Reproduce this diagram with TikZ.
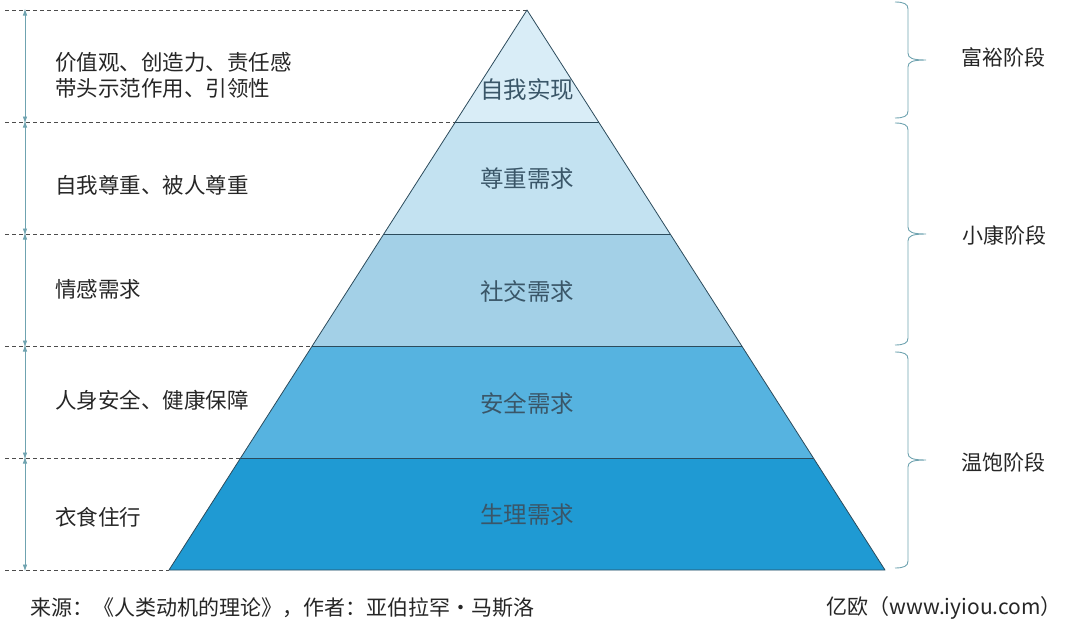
\documentclass[tikz,border=0pt]{standalone}
\usepackage{fontspec}
\setmainfont{Noto Sans CJK SC}
\usetikzlibrary{arrows.meta, positioning, calc}
\definecolor{lvl_a}{HTML}{D9EDF7}
\definecolor{lvl_b}{HTML}{C3E2F1}
\definecolor{lvl_c}{HTML}{A3D0E7}
\definecolor{lvl_d}{HTML}{56B3E0}
\definecolor{lvl_e}{HTML}{1F9AD3}
\definecolor{edge_dark}{HTML}{2C4B5C}
\definecolor{need_ink}{HTML}{3A5668}
\definecolor{span_teal}{HTML}{6FA3B0}
\tikzset{
  layer_edge/.style={edge_dark, line width=0.8pt, line join=round},
  need_label/.style={font=\fontsize{23.5}{27}\selectfont, text=need_ink},
  side_label/.style={font=\fontsize{21.5}{26}\selectfont, text=black!85, anchor=west, align=left, inner sep=0pt},
  stage_label/.style={font=\fontsize{21}{26}\selectfont, text=black!85, inner sep=0pt},
  foot_label/.style={font=\fontsize{21}{24}\selectfont, text=black!85, inner sep=0pt},
  guide_line/.style={dashed, dash pattern=on 4pt off 3pt, black!70, line width=0.7pt},
  span_arrow/.style={{Latex[length=7pt,width=4.5pt]}-{Latex[length=7pt,width=4.5pt]}, span_teal, line width=0.9pt},
  stage_brace/.style={span_teal, line width=0.9pt}
}
\begin{document}
\begin{tikzpicture}[x=1pt, y=-1pt]

  % --- Canvas ---
  \useasboundingbox (0,0) rectangle (1080,632);

  % --- Geometry Definitions ---
  \def\xApex{527}
  \def\yApex{10}
  \def\yStep{112}
  \def\xStep{71.6}
  \def\xGuide{5}
  \def\xSpan{25}
  \def\xSide{55}
  \def\xBrace{895}  % brace ends
  \def\xBar{908}    % brace spine
  \def\xTip{926}    % brace tip

  % --- Level coordinates ---
  \foreach \i in {0,...,5} {
    \coordinate (EL-\i) at ({\xApex-\xStep*\i}, {\yApex+\yStep*\i});
    \coordinate (ER-\i) at ({\xApex+\xStep*\i}, {\yApex+\yStep*\i});
    \coordinate (G-\i) at (\xGuide, {\yApex+\yStep*\i});
    \coordinate (A-\i) at (\xSpan, {\yApex+\yStep*\i});
  }

  % --- Dashed guides ---
  \foreach \i in {0,...,5} {
    \draw[guide_line] (G-\i) -- (EL-\i);
  }

  % --- Span arrows ---
  \foreach \i/\j in {0/1, 1/2, 2/3, 3/4, 4/5} {
    \draw[span_arrow] ([yshift=1.5pt]A-\i) -- ([yshift=-1.5pt]A-\j);
  }

  % --- Pyramid layers ---
  \foreach \i/\j/\col in {0/1/lvl_a, 1/2/lvl_b, 2/3/lvl_c, 3/4/lvl_d, 4/5/lvl_e} {
    \fill[\col] (EL-\i) -- (ER-\i) -- (ER-\j) -- (EL-\j) -- cycle;
  }
  \draw[layer_edge] (EL-5) -- (EL-0) -- (ER-5) -- cycle;
  \foreach \i in {1,...,4} {
    \draw[layer_edge] (EL-\i) -- (ER-\i);
  }

  % --- Need labels ---
  \node[need_label] (need-1) at (\xApex, 90) {自我实现};
  \node[need_label] (need-2) at (\xApex, 179) {尊重需求};
  \node[need_label] (need-3) at (\xApex, 291) {社交需求};
  \node[need_label] (need-4) at (\xApex, 403) {安全需求};
  \node[need_label] (need-5) at (\xApex, 515) {生理需求};

  % --- Side labels ---
  \node[side_label] (side-1) at (\xSide, 75) {价值观、创造力、责任感\\带头示范作用、引领性};
  \node[side_label] (side-2) at (\xSide, 185) {自我尊重、被人尊重};
  \node[side_label] (side-3) at (\xSide, 289) {情感需求};
  \node[side_label] (side-4) at (\xSide, 400) {人身安全、健康保障};
  \node[side_label] (side-5) at (\xSide, 517) {衣食住行};

  % --- Stage braces ---
  \foreach \t/\b in {2/118, 123/345, 352/568} {
    \pgfmathsetmacro{\m}{(\t+\b)/2}
    \draw[stage_brace] (\xBrace,\t) .. controls (904,\t) and (\xBar,{\t+2}) .. (\xBar,{\t+7})
      -- (\xBar,{\m-7}) .. controls (\xBar,{\m-2}) and (912,\m) .. (\xTip,\m)
      .. controls (912,\m) and (\xBar,{\m+2}) .. (\xBar,{\m+7})
      -- (\xBar,{\b-7}) .. controls (\xBar,{\b-2}) and (904,\b) .. (\xBrace,\b);
  }

  \node[stage_label] (stage-1) at (1003, 57) {富裕阶段};
  \node[stage_label] (stage-2) at (1004, 235) {小康阶段};
  \node[stage_label] (stage-3) at (1003, 462) {温饱阶段};

  % --- Footer ---
  \node[foot_label, anchor=west] (source) at (30, 608) {来源：《人类动机的理论》，作者：亚伯拉罕·马斯洛};
  \node[foot_label, anchor=east] (brand) at (1062, 608) {亿欧（www.iyiou.com）};

\end{tikzpicture}
\end{document}
